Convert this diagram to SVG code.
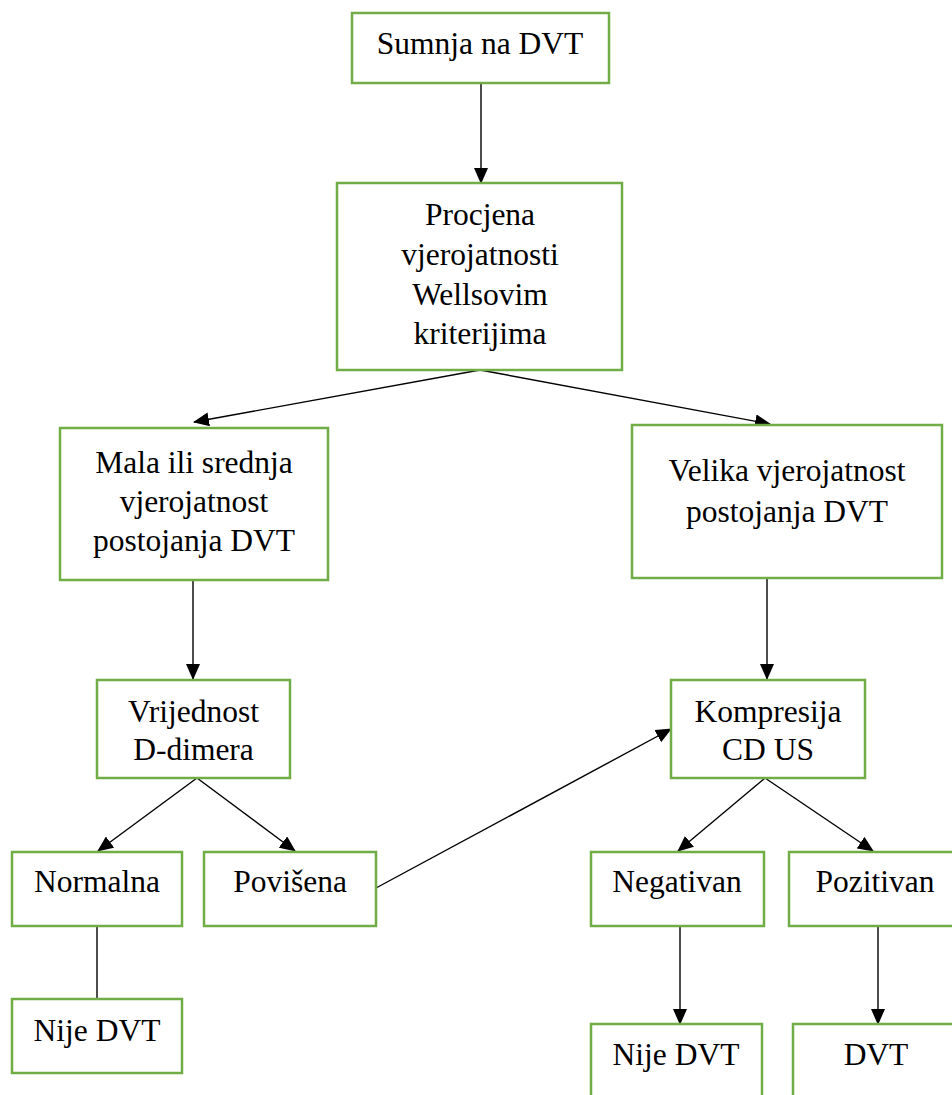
<svg xmlns="http://www.w3.org/2000/svg" width="952" height="1095" viewBox="0 0 952 1095">
<style>
.box{fill:#fff;stroke:#70AD47;stroke-width:2.5}
.t{font-family:"Liberation Serif","Times New Roman",serif;font-size:31.5px;fill:#000;text-anchor:middle}
.c{stroke:#000;stroke-width:1.4;fill:none}
.a{marker-end:url(#ah)}
</style>
<defs>
<marker id="ah" markerUnits="userSpaceOnUse" markerWidth="16" markerHeight="14" refX="15" refY="7" orient="auto">
<path d="M0,0 L16,7 L0,14 Z" fill="#000"/>
</marker>
</defs>
<rect width="952" height="1095" fill="#fff"/>
<g id="connectors">
<line class="c a" x1="481" y1="83" x2="481" y2="183"/>
<line class="c a" x1="480" y1="370" x2="194" y2="422"/>
<line class="c a" x1="480" y1="370" x2="770" y2="424"/>
<line class="c a" x1="193" y1="580" x2="193" y2="679"/>
<line class="c a" x1="767" y1="578" x2="767" y2="679"/>
<line class="c a" x1="197" y1="778" x2="98" y2="851"/>
<line class="c a" x1="197" y1="778" x2="295" y2="851"/>
<line class="c a" x1="376" y1="888" x2="671" y2="729"/>
<line class="c a" x1="765" y1="778" x2="678" y2="851"/>
<line class="c a" x1="765" y1="778" x2="873" y2="851"/>
<line class="c" x1="97" y1="926" x2="97" y2="999"/>
<line class="c a" x1="680" y1="926" x2="680" y2="1024"/>
<line class="c a" x1="878" y1="926" x2="878" y2="1024"/>
</g>
<g id="n1"><rect class="box" x="352" y="13" width="257" height="70"/><text class="t" x="480" y="54">Sumnja na DVT</text></g>
<g id="n2"><rect class="box" x="337" y="183" width="285" height="187"/>
<text class="t" x="480" y="225">Procjena</text><text class="t" x="480" y="265">vjerojatnosti</text><text class="t" x="480" y="305">Wellsovim</text><text class="t" x="480" y="344">kriterijima</text></g>
<g id="n3"><rect class="box" x="60" y="428" width="268" height="152"/>
<text class="t" x="194" y="473">Mala ili srednja</text><text class="t" x="194" y="512">vjerojatnost</text><text class="t" x="194" y="551">postojanja DVT</text></g>
<g id="n4"><rect class="box" x="632" y="425" width="310" height="153"/>
<text class="t" x="787" y="481">Velika vjerojatnost</text><text class="t" x="787" y="522">postojanja DVT</text></g>
<g id="n5"><rect class="box" x="97" y="680" width="193" height="98"/>
<text class="t" x="193.5" y="722">Vrijednost</text><text class="t" x="193.5" y="760">D-dimera</text></g>
<g id="n6"><rect class="box" x="671" y="680" width="194" height="98"/>
<text class="t" x="768" y="722">Kompresija</text><text class="t" x="768" y="760">CD US</text></g>
<g id="n7"><rect class="box" x="12" y="852" width="170" height="74"/><text class="t" x="97" y="892">Normalna</text></g>
<g id="n8"><rect class="box" x="204" y="852" width="172" height="74"/><text class="t" x="290" y="892">Povišena</text></g>
<g id="n9"><rect class="box" x="591" y="852" width="173" height="74"/><text class="t" x="677" y="892">Negativan</text></g>
<g id="n10"><rect class="box" x="789" y="852" width="175" height="74"/><text class="t" x="875" y="892">Pozitivan</text></g>
<g id="n11"><rect class="box" x="12" y="999" width="170" height="74"/><text class="t" x="97" y="1041">Nije DVT</text></g>
<g id="n12"><rect class="box" x="591" y="1024" width="171" height="80"/><text class="t" x="676" y="1065">Nije DVT</text></g>
<g id="n13"><rect class="box" x="793" y="1024" width="170" height="80"/><text class="t" x="876" y="1065">DVT</text></g>
</svg>
